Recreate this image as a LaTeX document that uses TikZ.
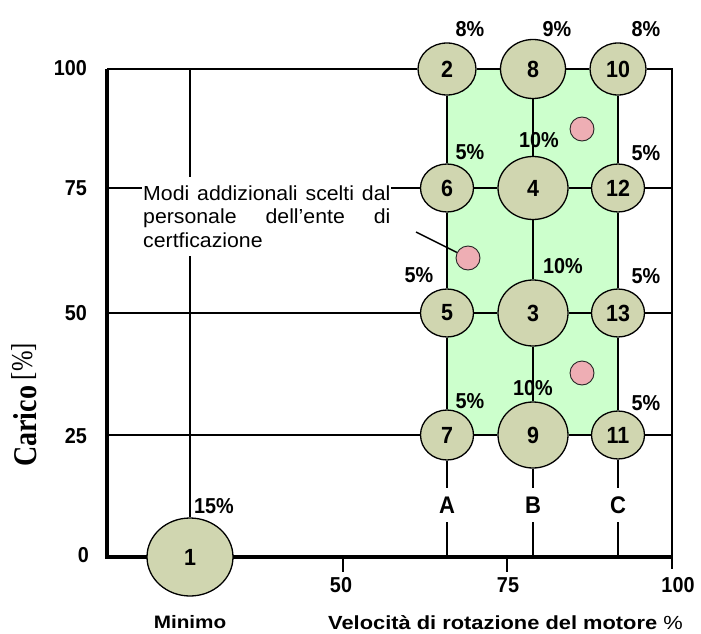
\documentclass[tikz,border=0pt]{standalone}
\usepackage{fontspec}
\setmainfont{Liberation Sans}
\newfontfamily\serifx{Liberation Serif}
\usepackage{graphicx}
\usetikzlibrary{shapes.geometric}
\definecolor{cfill}{RGB}{208,214,176}
\definecolor{gfill}{RGB}{204,255,204}
\definecolor{pfill}{RGB}{238,174,180}
\newcommand\bx[1]{\scalebox{1.1}[1.2]{#1}}
\pgfdeclarelayer{bglayer}
\pgfdeclarelayer{linelayer}
\pgfsetlayers{bglayer,linelayer,main}
\begin{document}
\begin{tikzpicture}[x=1pt,y=-1pt,
  op/.style={ellipse, draw=black, line width=1.3pt, fill=cfill, inner sep=0pt,
    font=\fontsize{19.5}{19.5}\selectfont\bfseries},
  sm/.style={minimum width=53pt, minimum height=48pt},
  lg/.style={minimum width=70pt, minimum height=64pt},
  pk/.style={circle, draw=black!85, line width=0.9pt, fill=pfill, minimum size=24pt, inner sep=0pt},
  pct/.style={font=\fontsize{18}{18}\selectfont\bfseries, inner sep=0pt},
  num/.style={font=\fontsize{18}{18}\selectfont\bfseries, inner sep=0pt},
  axisline/.style={line width=3.5pt, line join=miter},
  outer/.style={line width=2.6pt},
  innerh/.style={line width=1.2pt},
  innerv/.style={line width=1.6pt},
  tick/.style={line width=2.4pt},
  letter/.style={fill=white, inner xsep=2pt, minimum height=34pt,
    font=\fontsize{20}{20}\selectfont\bfseries},
  ytitle/.style={rotate=90, inner sep=0pt, font=\serifx\fontsize{22}{22}\selectfont},
]
\useasboundingbox (0,0) rectangle (701,634);

% coordinates
\coordinate (o) at (107,557);
\coordinate (l100) at (107,69);
\coordinate (l75) at (107,188);
\coordinate (l50) at (107,313);
\coordinate (l25) at (107,435);
\coordinate (r100) at (672,69);
\coordinate (r75) at (672,188);
\coordinate (r50) at (672,313);
\coordinate (r25) at (672,435);
\coordinate (rb) at (672,569);
\coordinate (xend) at (672,557);
\coordinate (m100) at (190,69);
\coordinate (aA) at (447,557);
\coordinate (aB) at (533,557);
\coordinate (aC) at (618,557);
\coordinate (t50a) at (343,557);
\coordinate (t50b) at (343,572);
\coordinate (t75a) at (507,557);
\coordinate (t75b) at (507,572);
\coordinate (ptr) at (416,232);
\coordinate (g1) at (447,69);
\coordinate (g2) at (618,435);

% circles
\node[op, minimum width=58pt, minimum height=52pt] (c2) at (447,69) {\bx{2}};
\node[op, minimum width=65pt, minimum height=59pt] (c8) at (533,69) {\bx{8}};
\node[op, minimum width=56pt, minimum height=52pt] (c10) at (618,69) {\bx{10}};
\node[op, sm] (c6) at (447,188) {\bx{6}};
\node[op, minimum width=70pt, minimum height=63pt] (c4) at (533,188) {\bx{4}};
\node[op, sm] (c12) at (618,188) {\bx{12}};
\node[op, sm] (c5) at (447,313) {\bx{5}};
\node[op, lg, minimum height=66pt] (c3) at (533,313) {\bx{3}};
\node[op, sm] (c13) at (618,313) {\bx{13}};
\node[op, sm, minimum height=50pt] (c7) at (447,435) {\bx{7}};
\node[op, lg, minimum height=66pt] (c9) at (533,435) {\bx{9}};
\node[op, sm] (c11) at (618,435) {\bx{11}};
\node[op, minimum width=86pt, minimum height=78pt] (c1) at (190,557) {\bx{1}};

% pink additional modes
\node[pk] (p1) at (582,129) {};
\node[pk] (p2) at (468,258) {};
\node[pk] (p3) at (582,373) {};

\begin{pgfonlayer}{bglayer}
\fill[gfill] (g1) rectangle (g2);
\end{pgfonlayer}

\begin{pgfonlayer}{linelayer}
% axes
\draw[axisline] (l100) -- (o) -- (xend);
\draw[outer, line join=miter] (c10) -- (r100) -- (rb);
\draw[tick] (t50a) -- (t50b);
\draw[tick] (t75a) -- (t75b);
% rows
\draw[outer] (l100) -- (c2);
\draw[outer] (c2) -- (c8) -- (c10);
\draw[outer] (l75) -- (c6);
\draw[innerh] (c6) -- (c4) -- (c12);
\draw[outer] (c12) -- (r75);
\draw[outer] (l50) -- (c5);
\draw[innerh] (c5) -- (c3) -- (c13);
\draw[outer] (c13) -- (r50);
\draw[outer] (l25) -- (c7);
\draw[outer] (c7) -- (c9) -- (c11);
\draw[outer] (c11) -- (r25);
% columns
\draw[line width=2pt] (m100) -- (c1);
\draw[innerv] (c2) -- (c6) -- (c5) -- (c7);
\draw[innerv] (c8) -- (c4) -- (c3) -- (c9);
\draw[innerv] (c10) -- (c12) -- (c13) -- (c11);
\draw[outer] (c7) -- (aA);
\draw[outer] (c9) -- (aB);
\draw[outer] (c11) -- (aC);
% pointer
\draw[line width=1.5pt] (ptr) -- (p2);
\end{pgfonlayer}

% column letters
\node[letter] (lA) at (447,505) {\bx{A}};
\node[letter] (lB) at (533,505) {\bx{B}};
\node[letter] (lC) at (618,505) {\bx{C}};

% annotation
\node[fill=white, inner xsep=1pt, inner ysep=8pt, anchor=base west,
  font=\fontsize{18.5}{21.5}\selectfont] (note) at (142,200)
  {\scalebox{1.15}[1.1]{\parbox[t]{215pt}{Modi addizionali scelti dal\linebreak
   personale dell’ente di\linebreak certficazione}}};

% percentages
\node[pct] (q2) at (470,29) {\bx{8\%}};
\node[pct] (q8) at (557,29) {\bx{9\%}};
\node[pct] (q10) at (646,29) {\bx{8\%}};
\node[pct] (q6) at (470,152) {\bx{5\%}};
\node[pct] (q4) at (539,140) {\bx{10\%}};
\node[pct] (q12) at (646,153) {\bx{5\%}};
\node[pct] (q5) at (419,275) {\bx{5\%}};
\node[pct] (q3) at (563,266) {\bx{10\%}};
\node[pct] (q13) at (646,276) {\bx{5\%}};
\node[pct] (q7) at (470,401) {\bx{5\%}};
\node[pct] (q9) at (533,388) {\bx{10\%}};
\node[pct] (q11) at (646,403) {\bx{5\%}};
\node[pct] (q1) at (214,506) {\bx{15\%}};

% axis numbers
\node[num, anchor=east] (y100) at (87,68) {\bx{100}};
\node[num, anchor=east] (y75) at (87,188) {\bx{75}};
\node[num, anchor=east] (y50) at (87,313) {\bx{50}};
\node[num, anchor=east] (y25) at (87,436) {\bx{25}};
\node[num, anchor=east] (y0) at (89,555) {\bx{0}};
\node[num] (x50) at (341,585) {\bx{50}};
\node[num] (x75) at (508,585) {\bx{75}};
\node[num] (x100) at (678,585) {\bx{100}};

% axis titles
\node[anchor=base, inner sep=0pt, font=\fontsize{18}{18}\selectfont\bfseries] (minimo) at (190,628)
  {\scalebox{1.15}[1]{Minimo}};
\node[anchor=base west, inner sep=0pt] (xlab) at (328,629)
  {\scalebox{1.15}[1]{\fontsize{19}{19}\selectfont\bfseries Velocità di rotazione del motore \mdseries\%}};
\node[ytitle, anchor=base west] (ylab1) at (37,467)
  {\resizebox{81pt}{23pt}{\textbf{Carico}}};
\node[ytitle, anchor=base east] (ylab2) at (32,343)
  {\resizebox*{37pt}{25pt}{[\%]}};
\end{tikzpicture}
\end{document}
